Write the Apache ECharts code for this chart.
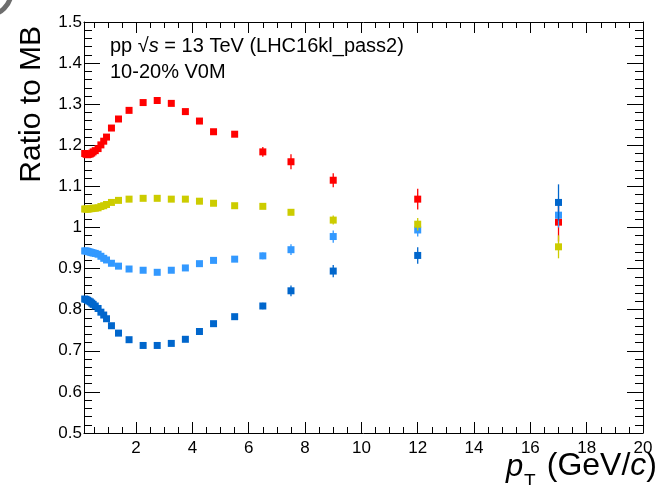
<!DOCTYPE html>
<html>
<head>
<meta charset="utf-8">
<script src="https://cdn.jsdelivr.net/npm/echarts@6/dist/echarts.min.js"></script>
<style>
  html, body { margin: 0; padding: 0; background: #fff; }
  #chart { width: 656px; height: 485px; }
</style>
</head>
<body>
<div id="chart"></div>
<script>
// pT bin centres (GeV/c)
const ptBins = [0.175, 0.225, 0.275, 0.325, 0.375, 0.425, 0.475, 0.55, 0.65, 0.75, 0.85, 0.95,
  1.125, 1.375, 1.75, 2.25, 2.75, 3.25, 3.75, 4.25, 4.75, 5.5, 6.5, 7.5, 9, 12, 17];

// ratios to minimum bias, one array per species
const ratioRed = [1.180, 1.178, 1.177, 1.178, 1.179, 1.181, 1.184, 1.187, 1.192, 1.201, 1.210, 1.220,
  1.242, 1.264, 1.285, 1.304, 1.309, 1.302, 1.282, 1.259, 1.233, 1.227, 1.184, 1.160, 1.115, 1.069, 1.013];
const errRed = [0.002, 0.002, 0.002, 0.002, 0.002, 0.002, 0.002, 0.002, 0.002, 0.002, 0.002, 0.002,
  0.002, 0.002, 0.002, 0.002, 0.002, 0.003, 0.003, 0.004, 0.004, 0.005, 0.012, 0.018, 0.017, 0.025, 0.047];

const ratioYellow = [1.045, 1.045, 1.045, 1.045, 1.046, 1.046, 1.047, 1.047, 1.048, 1.051, 1.053, 1.056,
  1.061, 1.066, 1.069, 1.071, 1.071, 1.069, 1.069, 1.064, 1.059, 1.053, 1.0515, 1.037, 1.018, 1.008, 0.953];
const errYellow = [0.001, 0.001, 0.001, 0.001, 0.001, 0.001, 0.001, 0.001, 0.001, 0.001, 0.001, 0.001,
  0.001, 0.001, 0.001, 0.001, 0.002, 0.002, 0.002, 0.002, 0.002, 0.003, 0.004, 0.006, 0.011, 0.015, 0.028];

const ratioLightBlue = [0.943, 0.943, 0.942, 0.941, 0.940, 0.939, 0.938, 0.937, 0.935, 0.930, 0.925, 0.921,
  0.913, 0.906, 0.899, 0.896, 0.891, 0.896, 0.9016, 0.912, 0.920, 0.923, 0.931, 0.946, 0.978, 0.994, 1.030];
const errLightBlue = [0.001, 0.001, 0.001, 0.001, 0.001, 0.001, 0.001, 0.001, 0.001, 0.001, 0.001, 0.001,
  0.001, 0.001, 0.002, 0.002, 0.002, 0.002, 0.002, 0.003, 0.003, 0.004, 0.008, 0.013, 0.015, 0.016, 0.030];

const ratioDarkBlue = [0.826, 0.825, 0.823, 0.821, 0.819, 0.816, 0.813, 0.809, 0.803, 0.794, 0.787, 0.778,
  0.761, 0.743, 0.727, 0.713, 0.713, 0.718, 0.728, 0.747, 0.766, 0.783, 0.809, 0.846, 0.894, 0.932, 1.061];
const errDarkBlue = [0.001, 0.001, 0.001, 0.001, 0.001, 0.001, 0.001, 0.001, 0.001, 0.001, 0.001, 0.001,
  0.001, 0.001, 0.002, 0.002, 0.002, 0.002, 0.002, 0.003, 0.003, 0.004, 0.008, 0.013, 0.015, 0.020, 0.044];

// axis ticks
const xMajorTicks = [2, 4, 6, 8, 10, 12, 14, 16, 18, 20];
const xMinorTicks = [0.5, 1, 1.5, 2.5, 3, 3.5, 4.5, 5, 5.5, 6.5, 7, 7.5, 8.5, 9, 9.5, 10.5, 11, 11.5,
  12.5, 13, 13.5, 14.5, 15, 15.5, 16.5, 17, 17.5, 18.5, 19, 19.5];

const FONT = '"Liberation Sans", Arial, Helvetica, sans-serif';

const groups = [
  { name: 'red', color: '#ff0000', vals: ratioRed, errs: errRed },
  { name: 'lightblue', color: '#3399ff', vals: ratioLightBlue, errs: errLightBlue },
  { name: 'yellow', color: '#cccc00', vals: ratioYellow, errs: errYellow },
  { name: 'darkblue', color: '#0066cc', vals: ratioDarkBlue, errs: errDarkBlue }
];

const series = [];
groups.forEach((g, gi) => {
  series.push({
    type: 'custom',
    name: g.name + '-err',
    xAxisIndex: 0, yAxisIndex: 0,
    z: 10 + gi * 2,
    silent: true,
    data: ptBins.map((x, i) => [x, g.vals[i], g.errs[i]]),
    renderItem: (params, api) => {
      const x = api.value(0), y = api.value(1), e = api.value(2);
      const hi = api.coord([x, y + e]);
      const lo = api.coord([x, y - e]);
      return {
        type: 'line',
        shape: { x1: hi[0], y1: hi[1], x2: lo[0], y2: lo[1] },
        style: { stroke: g.color, lineWidth: 1.3 }
      };
    }
  });
  series.push({
    type: 'scatter',
    name: g.name,
    xAxisIndex: 0, yAxisIndex: 0,
    z: 11 + gi * 2,
    symbol: 'rect',
    symbolSize: 7,
    itemStyle: { color: g.color, opacity: 1 },
    silent: true,
    data: ptBins.map((x, i) => [x, g.vals[i]])
  });
});

const xBase = { type: 'value', min: 0.15, max: 20, splitLine: { show: false } };
const blackLine = { show: true, lineStyle: { color: '#000', width: 1 } };

const option = {
  animation: false,
  backgroundColor: '#fff',
  grid: { left: 84, right: 13, top: 22, bottom: 52, containLabel: false },
  xAxis: [
    Object.assign({}, xBase, {
      position: 'bottom',
      axisLine: blackLine,
      axisTick: { show: true, inside: true, length: 11, customValues: xMajorTicks, lineStyle: { color: '#000', width: 1 } },
      axisLabel: { show: true, customValues: xMajorTicks, margin: 7, color: '#000', fontSize: 17, fontFamily: FONT }
    }),
    Object.assign({}, xBase, {
      position: 'bottom',
      axisLine: { show: false },
      axisTick: { show: true, inside: true, length: 6, customValues: xMinorTicks, lineStyle: { color: '#000', width: 1 } },
      axisLabel: { show: false }
    }),
    Object.assign({}, xBase, {
      position: 'top',
      axisLine: blackLine,
      axisTick: { show: true, inside: true, length: 11, customValues: xMajorTicks, lineStyle: { color: '#000', width: 1 } },
      axisLabel: { show: false }
    }),
    Object.assign({}, xBase, {
      position: 'top',
      axisLine: { show: false },
      axisTick: { show: true, inside: true, length: 6, customValues: xMinorTicks, lineStyle: { color: '#000', width: 1 } },
      axisLabel: { show: false }
    })
  ],
  yAxis: [
    {
      type: 'value', min: 0.5, max: 1.5, interval: 0.1, position: 'left',
      splitLine: { show: false },
      axisLine: blackLine,
      axisTick: { show: true, inside: true, length: 16, lineStyle: { color: '#000', width: 1 } },
      minorTick: { show: true, splitNumber: 5, length: 8, lineStyle: { color: '#000', width: 1 } },
      axisLabel: {
        margin: 2, color: '#000', fontSize: 17, fontFamily: FONT,
        formatter: v => String(Math.round(v * 10) / 10)
      }
    },
    {
      type: 'value', min: 0.5, max: 1.5, interval: 0.1, position: 'right',
      splitLine: { show: false },
      axisLine: blackLine,
      axisTick: { show: true, inside: true, length: 16, lineStyle: { color: '#000', width: 1 } },
      minorTick: { show: true, splitNumber: 5, length: 8, lineStyle: { color: '#000', width: 1 } },
      axisLabel: { show: false }
    }
  ],
  graphic: [
    // partial ring in the upper-left corner
    {
      type: 'arc', silent: true,
      shape: { cx: -12, cy: -8, r: 23, startAngle: 0, endAngle: Math.PI / 2 },
      style: { stroke: '#6e6e6e', lineWidth: 5, fill: null }
    },
    // y-axis title
    {
      type: 'text', x: 32, y: 26, rotation: Math.PI / 2, silent: true,
      style: { text: 'Ratio to MB', align: 'right', verticalAlign: 'middle', fill: '#000', font: '30px ' + FONT }
    },
    // x-axis title: p_T (GeV/c)
    {
      type: 'text', x: 506, y: 467, silent: true,
      style: { text: 'p', align: 'left', verticalAlign: 'middle', fill: '#000', font: 'italic 31px ' + FONT }
    },
    {
      type: 'text', x: 524, y: 482, silent: true,
      style: { text: 'T', align: 'left', verticalAlign: 'middle', fill: '#000', font: '19px ' + FONT }
    },
    {
      type: 'text', x: 657, y: 466, silent: true,
      style: {
        text: '(GeV/{c|c})', align: 'right', verticalAlign: 'middle', fill: '#000', font: '32px ' + FONT,
        rich: { c: { fontStyle: 'italic', fontSize: 32, fontFamily: FONT, fill: '#000' } }
      }
    },
    // annotations
    {
      type: 'text', x: 110, y: 46, silent: true,
      style: {
        text: 'pp √{s|s} = 13 TeV (LHC16kl_pass2)', align: 'left', verticalAlign: 'middle',
        fill: '#000', font: '20px ' + FONT,
        rich: { s: { fontStyle: 'italic', fontSize: 20, fontFamily: FONT, fill: '#000' } }
      }
    },
    {
      type: 'text', x: 110, y: 72, silent: true,
      style: { text: '10-20% V0M', align: 'left', verticalAlign: 'middle', fill: '#000', font: '20px ' + FONT }
    }
  ],
  series: series
};

const chart = echarts.init(document.getElementById('chart'), null, { renderer: 'canvas' });
chart.setOption(option);
</script>
</body>
</html>
